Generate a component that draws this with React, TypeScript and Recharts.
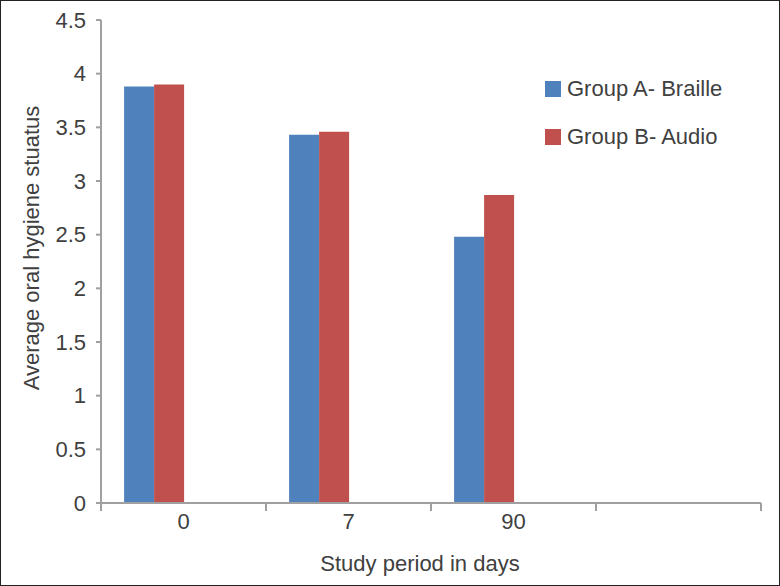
import { BarChart, Bar, XAxis, YAxis, Legend } from 'recharts';

// study days on the x axis (last slot is empty, like the original sheet)
const categories = ['0', '7', '90', ''];
const groupA = [3.88, 3.43, 2.48, null];
const groupB = [3.9, 3.46, 2.87, null];
const yTicks = [0, 0.5, 1, 1.5, 2, 2.5, 3, 3.5, 4, 4.5];

const data = categories.map((day, i) => ({
  day,
  a: groupA[i],
  b: groupB[i],
  c: null,
  d: null,
}));

const axisColor = '#a0a0a0';
const textColor = '#404040';
const fontSize = 22;

// Excel style: tick marks sit between categories, label in the middle
function DayTick(props: any) {
  const { x, y, payload, index, visibleTicksCount } = props;
  const half = payload.offset || 0;
  const isLast = index === visibleTicksCount - 1;
  return (
    <g>
      <line x1={x - half} x2={x - half} y1={y} y2={y + 8} stroke={axisColor} strokeWidth={2} />
      {isLast && (
        <line x1={x + half} x2={x + half} y1={y} y2={y + 8} stroke={axisColor} strokeWidth={2} />
      )}
      <text x={x} y={y + 10} dy="0.71em" textAnchor="middle" fontSize={fontSize} fill={textColor}>
        {payload.value}
      </text>
    </g>
  );
}

function LegendBox({ payload }: any) {
  const items = (payload || []).filter((p: any) => p.type !== 'none');
  return (
    <svg width={220} height={90}>
      {items.map((item: any, i: number) => (
        <g key={item.value} transform={`translate(0, ${i * 48})`}>
          <rect x={0} y={11} width={16} height={16} fill={item.color} />
          <text x={22} y={26} fontSize={fontSize} fill={textColor}>
            {item.value}
          </text>
        </g>
      ))}
    </svg>
  );
}

export default function App() {
  return (
    <div
      style={{
        position: 'absolute',
        left: 0,
        top: 0,
        width: 780,
        height: 586,
        background: '#fff',
        fontFamily: '"Liberation Sans", Arial, sans-serif',
      }}
    >
      <BarChart
        width={780}
        height={586}
        data={data}
        margin={{ top: 20, right: 19, left: 0, bottom: 53 }}
        barCategoryGap="14%"
        barGap={0}
      >
        <XAxis
          dataKey="day"
          height={30}
          tickLine={false}
          tickSize={0}
          tickMargin={0}
          axisLine={{ stroke: axisColor, strokeWidth: 2 }}
          tick={<DayTick />}
          interval={0}
          label={{
            content: () => (
              <text x={420} y={571} textAnchor="middle" fontSize={fontSize} fill={textColor}>
                Study period in days
              </text>
            ),
          }}
        />
        <YAxis
          width={101}
          domain={[0, 4.5]}
          ticks={yTicks}
          interval={0}
          tickSize={5}
          tickMargin={10}
          axisLine={{ stroke: axisColor, strokeWidth: 2 }}
          tickLine={{ stroke: axisColor, strokeWidth: 2 }}
          tick={{ fontSize, fill: textColor }}
          label={{
            content: () => (
              <text
                x={39}
                y={248}
                transform="rotate(-90, 39, 248)"
                textAnchor="middle"
                fontSize={fontSize}
                fill={textColor}
              >
                Average oral hygiene stuatus
              </text>
            ),
          }}
        />
        <Legend
          layout="vertical"
          align="center"
          verticalAlign="middle"
          content={LegendBox}
          wrapperStyle={{ position: 'absolute', left: 545, top: 70, width: 220, height: 90 }}
        />
        <Bar dataKey="a" name="Group A- Braille" fill="#4f81bd" isAnimationActive={false} />
        <Bar dataKey="b" name="Group B- Audio" fill="#c0504d" isAnimationActive={false} />
        <Bar dataKey="c" fill="transparent" legendType="none" isAnimationActive={false} />
        <Bar dataKey="d" fill="transparent" legendType="none" isAnimationActive={false} />
      </BarChart>
      <div
        style={{
          position: 'absolute',
          inset: 0,
          border: '1px solid #222',
          pointerEvents: 'none',
        }}
      />
    </div>
  );
}
